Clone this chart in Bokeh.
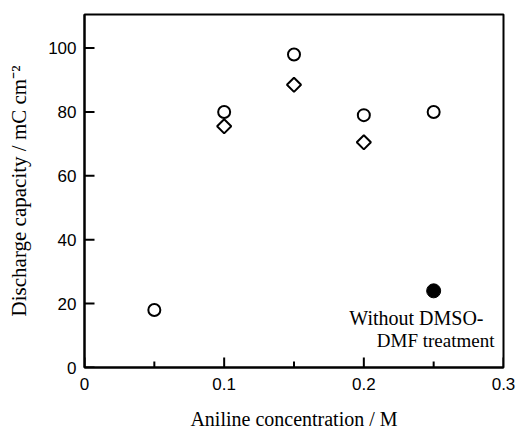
from bokeh.plotting import figure
from bokeh.models import FixedTicker, CustomJSTickFormatter, Range1d, Label
from bokeh.embed import file_html
from bokeh.resources import INLINE

# Data
conc_circle = [0.05, 0.10, 0.15, 0.20, 0.25]
cap_circle = [18, 80, 98, 79, 80]
conc_diamond = [0.10, 0.15, 0.20]
cap_diamond = [75.5, 88.5, 70.5]
conc_untreated = [0.25]
cap_untreated = [24]

x_ticks = [0, 0.1, 0.2, 0.3]
x_minor = [0.05, 0.15, 0.25]
y_ticks = [0, 20, 40, 60, 80, 100]

note_lines = ["Without DMSO-", "DMF treatment"]

X0, X1 = 0, 0.3
Y0, Y1 = 0, 110.5
W, H = 516, 433
ML, MR, MT, MB = 84, 13, 14, 66

p = figure(width=W, height=H, output_backend="svg", toolbar_location=None,
           x_range=Range1d(X0, X1), y_range=Range1d(Y0, Y1),
           min_border_left=ML, min_border_right=MR, min_border_top=MT, min_border_bottom=MB)
p.xgrid.visible = False
p.ygrid.visible = False
p.outline_line_color = "black"
p.outline_line_width = 2
p.background_fill_color = "white"
p.border_fill_color = "white"

# inward tick marks drawn from the tick arrays (length converted from pixels to data units)
fw = W - ML - MR
fh = H - MT - MB
ux = (X1 - X0) / fw   # data units per pixel
uy = (Y1 - Y0) / fh
p.segment(x0=x_ticks, y0=[Y0] * len(x_ticks), x1=x_ticks, y1=[Y0 + 10 * uy] * len(x_ticks),
          line_color="black", line_width=2)
p.segment(x0=x_minor, y0=[Y0] * len(x_minor), x1=x_minor, y1=[Y0 + 6 * uy] * len(x_minor),
          line_color="black", line_width=2)
p.segment(x0=[X0] * len(y_ticks), y0=y_ticks, x1=[X0 + 10 * ux] * len(y_ticks), y1=y_ticks,
          line_color="black", line_width=2)

p.scatter(conc_circle, cap_circle, marker="circle", size=12, fill_color=None,
          line_color="black", line_width=2)
p.scatter(conc_diamond, cap_diamond, marker="square", angle=0.785398, size=10,
          fill_color=None, line_color="black", line_width=2)
p.scatter(conc_untreated, cap_untreated, marker="circle", size=14, fill_color="black",
          line_color="black")

xa = p.xaxis[0]
xa.ticker = FixedTicker(ticks=x_ticks, minor_ticks=x_minor)
xa.formatter = CustomJSTickFormatter(code="return tick == 0 ? '0' : tick.toFixed(1);")
xa.axis_label = "Aniline concentration / M"
ya = p.yaxis[0]
ya.ticker = FixedTicker(ticks=y_ticks)
ya.axis_label = "Discharge capacity / mC cm\u207b\u00b2"

for ax in (xa, ya):
    ax.major_tick_in = 0
    ax.major_tick_out = 0
    ax.minor_tick_in = 0
    ax.minor_tick_out = 0
    ax.axis_line_width = 2
    ax.major_label_text_font = "Liberation Sans"
    ax.major_label_text_font_size = "17px"
    ax.major_label_text_color = "black"
    ax.axis_label_text_font = "Liberation Serif"
    ax.axis_label_text_font_style = "normal"
    ax.axis_label_text_color = "black"
xa.axis_label_text_font_size = "20px"
ya.axis_label_text_font_size = "21px"
xa.major_label_standoff = 10
xa.axis_label_standoff = 15
ya.major_label_standoff = 8
ya.axis_label_standoff = 14

p.add_layout(Label(x=0.1896, y=12.2, text=note_lines[0], text_font="Liberation Serif",
                   text_font_size="20px", text_color="black"))
p.add_layout(Label(x=0.2093, y=5.3, text=note_lines[1], text_font="Liberation Serif",
                   text_font_size="19px", text_color="black"))

open("out.html", "w").write(file_html(p, INLINE))
